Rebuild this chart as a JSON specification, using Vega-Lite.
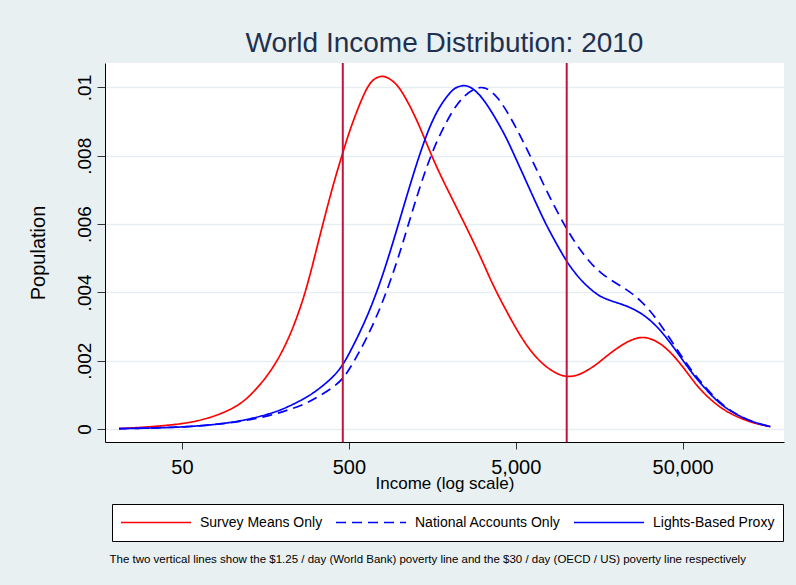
{
  "$schema": "https://vega.github.io/schema/vega-lite/v6.json",
  "width": 679,
  "height": 379,
  "autosize": {"type": "none"},
  "padding": {"left": 105, "top": 63, "right": 12, "bottom": 143},
  "background": "#E9F0F2",
  "config": {
    "view": {"fill": "white", "stroke": null},
    "font": "Liberation Sans"
  },
  "title": {
    "text": "World Income Distribution: 2010",
    "fontSize": 28,
    "fontWeight": "normal",
    "color": "#22304F",
    "font": "Liberation Sans",
    "anchor": "middle",
    "offset": 4
  },
  "resolve": {"axis": {"x": "independent"}},
  "layer": [
    {
      "data": {
        "values": [
          {"income": 21, "series": "Survey Means Only", "density": 0.00001},
          {"income": 43, "series": "Survey Means Only", "density": 0.0001},
          {"income": 69, "series": "Survey Means Only", "density": 0.00026},
          {"income": 109, "series": "Survey Means Only", "density": 0.00065},
          {"income": 137, "series": "Survey Means Only", "density": 0.00112},
          {"income": 172, "series": "Survey Means Only", "density": 0.0017},
          {"income": 217, "series": "Survey Means Only", "density": 0.00258},
          {"income": 273, "series": "Survey Means Only", "density": 0.0039},
          {"income": 321, "series": "Survey Means Only", "density": 0.0053},
          {"income": 404, "series": "Survey Means Only", "density": 0.0072},
          {"income": 460, "series": "Survey Means Only", "density": 0.00808},
          {"income": 508, "series": "Survey Means Only", "density": 0.00879},
          {"income": 640, "series": "Survey Means Only", "density": 0.01005},
          {"income": 718, "series": "Survey Means Only", "density": 0.01028},
          {"income": 805, "series": "Survey Means Only", "density": 0.01036},
          {"income": 904, "series": "Survey Means Only", "density": 0.01022},
          {"income": 1014, "series": "Survey Means Only", "density": 0.01},
          {"income": 1277, "series": "Survey Means Only", "density": 0.00909},
          {"income": 1605, "series": "Survey Means Only", "density": 0.00785},
          {"income": 2022, "series": "Survey Means Only", "density": 0.00686},
          {"income": 2487, "series": "Survey Means Only", "density": 0.00598},
          {"income": 2789, "series": "Survey Means Only", "density": 0.00548},
          {"income": 3202, "series": "Survey Means Only", "density": 0.00485},
          {"income": 3512, "series": "Survey Means Only", "density": 0.0044},
          {"income": 3851, "series": "Survey Means Only", "density": 0.00399},
          {"income": 4422, "series": "Survey Means Only", "density": 0.00343},
          {"income": 5562, "series": "Survey Means Only", "density": 0.00255},
          {"income": 7004, "series": "Survey Means Only", "density": 0.00194},
          {"income": 8822, "series": "Survey Means Only", "density": 0.0016},
          {"income": 10126, "series": "Survey Means Only", "density": 0.00153},
          {"income": 11355, "series": "Survey Means Only", "density": 0.00155},
          {"income": 12732, "series": "Survey Means Only", "density": 0.00165},
          {"income": 14616, "series": "Survey Means Only", "density": 0.00183},
          {"income": 16030, "series": "Survey Means Only", "density": 0.00198},
          {"income": 18405, "series": "Survey Means Only", "density": 0.00222},
          {"income": 21131, "series": "Survey Means Only", "density": 0.00243},
          {"income": 24260, "series": "Survey Means Only", "density": 0.0026},
          {"income": 27846, "series": "Survey Means Only", "density": 0.0027},
          {"income": 31970, "series": "Survey Means Only", "density": 0.00266},
          {"income": 36707, "series": "Survey Means Only", "density": 0.00251},
          {"income": 42125, "series": "Survey Means Only", "density": 0.00226},
          {"income": 48370, "series": "Survey Means Only", "density": 0.00192},
          {"income": 55525, "series": "Survey Means Only", "density": 0.00153},
          {"income": 63760, "series": "Survey Means Only", "density": 0.00114},
          {"income": 84000, "series": "Survey Means Only", "density": 0.0006},
          {"income": 110700, "series": "Survey Means Only", "density": 0.00031},
          {"income": 136200, "series": "Survey Means Only", "density": 0.00016},
          {"income": 167600, "series": "Survey Means Only", "density": 0.00007},

          {"income": 21, "series": "National Accounts Only", "density": 0.00001},
          {"income": 43, "series": "National Accounts Only", "density": 0.00004},
          {"income": 69, "series": "National Accounts Only", "density": 0.0001},
          {"income": 109, "series": "National Accounts Only", "density": 0.0002},
          {"income": 172, "series": "National Accounts Only", "density": 0.0004},
          {"income": 217, "series": "National Accounts Only", "density": 0.00056},
          {"income": 273, "series": "National Accounts Only", "density": 0.00073},
          {"income": 321, "series": "National Accounts Only", "density": 0.00092},
          {"income": 404, "series": "National Accounts Only", "density": 0.00122},
          {"income": 460, "series": "National Accounts Only", "density": 0.00147},
          {"income": 508, "series": "National Accounts Only", "density": 0.00177},
          {"income": 640, "series": "National Accounts Only", "density": 0.00264},
          {"income": 805, "series": "National Accounts Only", "density": 0.00374},
          {"income": 1014, "series": "National Accounts Only", "density": 0.00515},
          {"income": 1277, "series": "National Accounts Only", "density": 0.00684},
          {"income": 1605, "series": "National Accounts Only", "density": 0.00825},
          {"income": 2022, "series": "National Accounts Only", "density": 0.0092},
          {"income": 2218, "series": "National Accounts Only", "density": 0.0095},
          {"income": 2487, "series": "National Accounts Only", "density": 0.00978},
          {"income": 2789, "series": "National Accounts Only", "density": 0.00995},
          {"income": 3202, "series": "National Accounts Only", "density": 0.01005},
          {"income": 3851, "series": "National Accounts Only", "density": 0.00979},
          {"income": 4844, "series": "National Accounts Only", "density": 0.00899},
          {"income": 6100, "series": "National Accounts Only", "density": 0.00801},
          {"income": 7683, "series": "National Accounts Only", "density": 0.00694},
          {"income": 10126, "series": "National Accounts Only", "density": 0.00582},
          {"income": 12732, "series": "National Accounts Only", "density": 0.00509},
          {"income": 16030, "series": "National Accounts Only", "density": 0.00455},
          {"income": 21131, "series": "National Accounts Only", "density": 0.0042},
          {"income": 24260, "series": "National Accounts Only", "density": 0.00401},
          {"income": 27846, "series": "National Accounts Only", "density": 0.00377},
          {"income": 31970, "series": "National Accounts Only", "density": 0.00346},
          {"income": 36707, "series": "National Accounts Only", "density": 0.00307},
          {"income": 42125, "series": "National Accounts Only", "density": 0.00264},
          {"income": 48370, "series": "National Accounts Only", "density": 0.00218},
          {"income": 55525, "series": "National Accounts Only", "density": 0.00177},
          {"income": 63760, "series": "National Accounts Only", "density": 0.00139},
          {"income": 84000, "series": "National Accounts Only", "density": 0.00073},
          {"income": 110700, "series": "National Accounts Only", "density": 0.00036},
          {"income": 136200, "series": "National Accounts Only", "density": 0.00018},
          {"income": 167600, "series": "National Accounts Only", "density": 0.00007},

          {"income": 21, "series": "Lights-Based Proxy", "density": 0.00001},
          {"income": 43, "series": "Lights-Based Proxy", "density": 0.00004},
          {"income": 69, "series": "Lights-Based Proxy", "density": 0.0001},
          {"income": 109, "series": "Lights-Based Proxy", "density": 0.00021},
          {"income": 172, "series": "Lights-Based Proxy", "density": 0.00045},
          {"income": 217, "series": "Lights-Based Proxy", "density": 0.00065},
          {"income": 273, "series": "Lights-Based Proxy", "density": 0.0009},
          {"income": 321, "series": "Lights-Based Proxy", "density": 0.00112},
          {"income": 404, "series": "Lights-Based Proxy", "density": 0.00152},
          {"income": 460, "series": "Lights-Based Proxy", "density": 0.00187},
          {"income": 508, "series": "Lights-Based Proxy", "density": 0.00225},
          {"income": 640, "series": "Lights-Based Proxy", "density": 0.00323},
          {"income": 805, "series": "Lights-Based Proxy", "density": 0.00452},
          {"income": 1014, "series": "Lights-Based Proxy", "density": 0.00616},
          {"income": 1277, "series": "Lights-Based Proxy", "density": 0.00782},
          {"income": 1605, "series": "Lights-Based Proxy", "density": 0.00919},
          {"income": 2022, "series": "Lights-Based Proxy", "density": 0.00988},
          {"income": 2218, "series": "Lights-Based Proxy", "density": 0.01002},
          {"income": 2487, "series": "Lights-Based Proxy", "density": 0.01008},
          {"income": 2789, "series": "Lights-Based Proxy", "density": 0.00997},
          {"income": 3202, "series": "Lights-Based Proxy", "density": 0.00967},
          {"income": 3851, "series": "Lights-Based Proxy", "density": 0.00904},
          {"income": 4422, "series": "Lights-Based Proxy", "density": 0.0085},
          {"income": 4844, "series": "Lights-Based Proxy", "density": 0.00807},
          {"income": 5562, "series": "Lights-Based Proxy", "density": 0.00743},
          {"income": 6100, "series": "Lights-Based Proxy", "density": 0.00699},
          {"income": 7004, "series": "Lights-Based Proxy", "density": 0.00635},
          {"income": 7683, "series": "Lights-Based Proxy", "density": 0.00594},
          {"income": 8822, "series": "Lights-Based Proxy", "density": 0.0054},
          {"income": 10126, "series": "Lights-Based Proxy", "density": 0.00489},
          {"income": 11355, "series": "Lights-Based Proxy", "density": 0.00456},
          {"income": 12732, "series": "Lights-Based Proxy", "density": 0.00428},
          {"income": 14616, "series": "Lights-Based Proxy", "density": 0.00402},
          {"income": 16030, "series": "Lights-Based Proxy", "density": 0.00388},
          {"income": 18405, "series": "Lights-Based Proxy", "density": 0.00376},
          {"income": 21131, "series": "Lights-Based Proxy", "density": 0.00367},
          {"income": 24260, "series": "Lights-Based Proxy", "density": 0.00356},
          {"income": 27846, "series": "Lights-Based Proxy", "density": 0.00341},
          {"income": 31970, "series": "Lights-Based Proxy", "density": 0.00319},
          {"income": 36707, "series": "Lights-Based Proxy", "density": 0.0029},
          {"income": 42125, "series": "Lights-Based Proxy", "density": 0.00253},
          {"income": 48370, "series": "Lights-Based Proxy", "density": 0.00212},
          {"income": 55525, "series": "Lights-Based Proxy", "density": 0.00171},
          {"income": 63760, "series": "Lights-Based Proxy", "density": 0.00134},
          {"income": 84000, "series": "Lights-Based Proxy", "density": 0.0007},
          {"income": 110700, "series": "Lights-Based Proxy", "density": 0.00036},
          {"income": 136200, "series": "Lights-Based Proxy", "density": 0.00018},
          {"income": 167600, "series": "Lights-Based Proxy", "density": 0.00007}
        ]
      },
      "mark": {"type": "line", "strokeWidth": 1.7, "interpolate": "basis"},
      "encoding": {
        "x": {
          "field": "income",
          "type": "quantitative",
          "scale": {"type": "log", "domain": [17.3, 202400], "nice": false, "zero": false},
          "axis": {
            "orient": "bottom",
            "values": [50, 500, 5000, 50000],
            "format": ",d",
            "title": "Income (log scale)",
            "titleFontSize": 17,
            "titleFontWeight": "normal",
            "titleColor": "#000000",
            "titleY": 33,
            "labelFontSize": 20,
            "labelColor": "#000000",
            "labelPadding": 8,
            "tickSize": 7,
            "tickColor": "#333333",
            "domainColor": "#000000",
            "grid": false
          }
        },
        "y": {
          "field": "density",
          "type": "quantitative",
          "scale": {"domain": [-0.00038, 0.010717], "nice": false, "zero": false},
          "axis": {
            "values": [0, 0.002, 0.004, 0.006, 0.008, 0.01],
            "labelExpr": "datum.value == 0 ? '0' : substring(format(datum.value, '.3~f'), 1)",
            "title": "Population",
            "titleFontSize": 20,
            "titleFontWeight": "normal",
            "titleColor": "#000000",
            "titleX": -57,
            "labelAngle": 270,
            "labelAlign": "center",
            "labelBaseline": "bottom",
            "labelFontSize": 19,
            "labelColor": "#000000",
            "labelPadding": 3,
            "tickSize": 8,
            "tickColor": "#333333",
            "domainColor": "#000000",
            "grid": true,
            "gridColor": "#E6EEF1",
            "gridWidth": 1.5
          }
        },
        "color": {
          "field": "series",
          "type": "nominal",
          "scale": {
            "domain": ["Survey Means Only", "National Accounts Only", "Lights-Based Proxy"],
            "range": ["#FF0000", "#0000FF", "#0000FF"]
          },
          "legend": {
            "title": null,
            "orient": "none",
            "legendX": 7,
            "legendY": 441,
            "direction": "horizontal",
            "columns": 3,
            "columnPadding": 12,
            "padding": 8,
            "clipHeight": 21,
            "fillColor": "white",
            "strokeColor": "#000000",
            "cornerRadius": 0,
            "symbolType": "stroke",
            "symbolSize": 4900,
            "symbolStrokeWidth": 1.7,
            "labelFontSize": 14,
            "labelColor": "#000000",
            "labelOffset": 8,
            "labelLimit": 300
          }
        },
        "strokeDash": {
          "field": "series",
          "type": "nominal",
          "scale": {
            "domain": ["Survey Means Only", "National Accounts Only", "Lights-Based Proxy"],
            "range": [[1, 0], [10, 6], [1, 0]]
          },
          "legend": {
            "title": null,
            "orient": "none",
            "legendX": 7,
            "legendY": 441,
            "direction": "horizontal",
            "columns": 3,
            "columnPadding": 12,
            "padding": 8,
            "clipHeight": 21,
            "fillColor": "white",
            "strokeColor": "#000000",
            "cornerRadius": 0,
            "symbolType": "stroke",
            "symbolSize": 4900,
            "symbolStrokeWidth": 1.7,
            "labelFontSize": 14,
            "labelColor": "#000000",
            "labelOffset": 8,
            "labelLimit": 300
          }
        }
      }
    },
    {
      "data": {"values": [{"line": 460}, {"line": 10100}]},
      "mark": {"type": "rule", "color": "#C4143C", "strokeWidth": 2},
      "encoding": {
        "x": {
          "field": "line",
          "type": "quantitative",
          "scale": {"type": "log", "domain": [17.3, 202400], "nice": false, "zero": false},
          "axis": {
            "orient": "bottom",
            "title": "The two vertical lines show the $1.25 / day (World Bank) poverty line and the $30 / day (OECD / US) poverty line respectively",
            "titleFontSize": 11.5,
            "titleFontWeight": "normal",
            "titleColor": "#000000",
            "titleAnchor": "start",
            "titleAlign": "left",
            "titleX": 4,
            "titleY": 111,
            "domain": false,
            "ticks": false,
            "labels": false,
            "grid": false
          }
        }
      }
    }
  ]
}
